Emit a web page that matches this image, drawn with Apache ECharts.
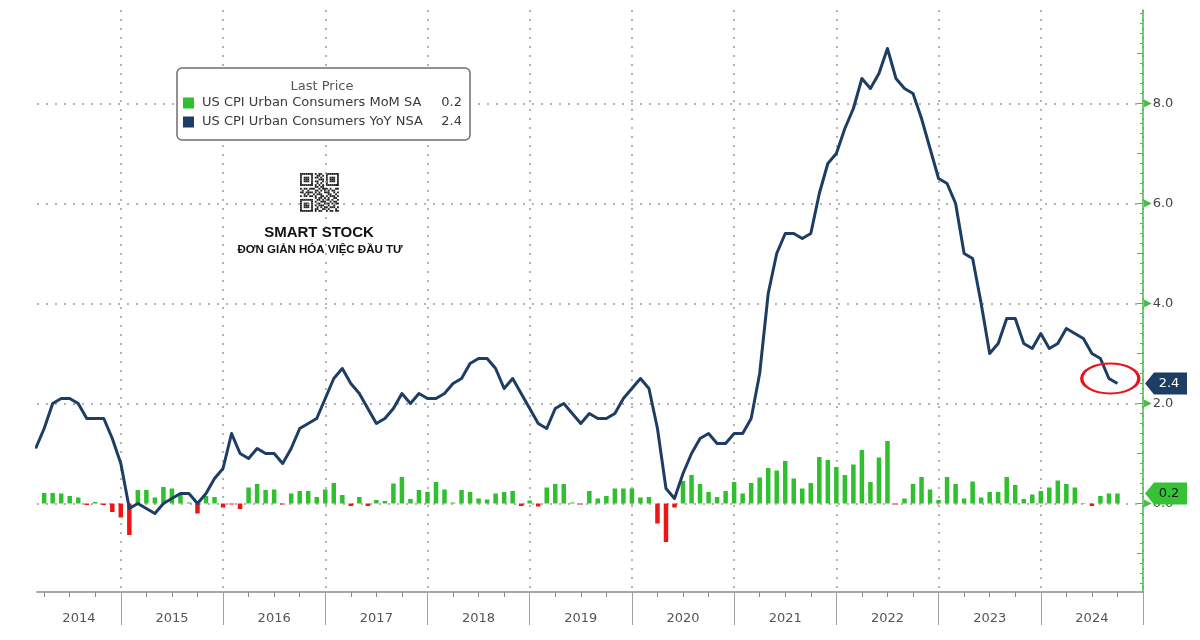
<!DOCTYPE html>
<html><head><meta charset="utf-8">
<script src="https://cdn.jsdelivr.net/npm/echarts@6/dist/echarts.min.js"></script>
<style>html,body{margin:0;padding:0;background:#fff}#c{width:1200px;height:640px}</style>
</head><body><div id="c"></div>
<script>
// ---------------- DATA ----------------
// monthly observations, first one = Feb 2014, each plotted at its month end
const startYear = 2014;
const startMonth = 2;
const yearLabels = ['2014','2015','2016','2017','2018','2019','2020','2021','2022','2023','2024'];
const seriesNames = ['US CPI Urban Consumers MoM SA', 'US CPI Urban Consumers YoY NSA'];

// US CPI YoY NSA (%)
const yoyNSA = [
  1.1, 1.5, 2.0, 2.1, 2.1, 2.0, 1.7, 1.7, 1.7, 1.3, 0.8,          // 2014 Feb-Dec
  -0.1, 0.0, -0.1, -0.2, 0.0, 0.1, 0.2, 0.2, 0.0, 0.2, 0.5, 0.7,  // 2015
  1.4, 1.0, 0.9, 1.1, 1.0, 1.0, 0.8, 1.1, 1.5, 1.6, 1.7, 2.1,     // 2016
  2.5, 2.7, 2.4, 2.2, 1.9, 1.6, 1.7, 1.9, 2.2, 2.0, 2.2, 2.1,     // 2017
  2.1, 2.2, 2.4, 2.5, 2.8, 2.9, 2.9, 2.7, 2.3, 2.5, 2.2, 1.9,     // 2018
  1.6, 1.5, 1.9, 2.0, 1.8, 1.6, 1.8, 1.7, 1.7, 1.8, 2.1, 2.3,     // 2019
  2.5, 2.3, 1.5, 0.3, 0.1, 0.6, 1.0, 1.3, 1.4, 1.2, 1.2, 1.4,     // 2020
  1.4, 1.7, 2.6, 4.2, 5.0, 5.4, 5.4, 5.3, 5.4, 6.2, 6.8, 7.0,     // 2021
  7.5, 7.9, 8.5, 8.3, 8.6, 9.1, 8.5, 8.3, 8.2, 7.7, 7.1, 6.5,     // 2022
  6.4, 6.0, 5.0, 4.9, 4.0, 3.0, 3.2, 3.7, 3.7, 3.2, 3.1, 3.4,     // 2023
  3.1, 3.2, 3.5, 3.4, 3.3, 3.0, 2.9, 2.5, 2.4                     // 2024 Jan-Sep
];

// US CPI MoM SA (%)  (Feb 2014 bar lies left of the visible window)
const momSA = [
  null, 0.21, 0.21, 0.2, 0.15, 0.12, -0.03, 0.03, -0.03, -0.17, -0.28,       // 2014
  -0.63, 0.27, 0.27, 0.12, 0.33, 0.3, 0.2, 0.02, -0.2, 0.15, 0.13, -0.08,    // 2015
  -0.02, -0.11, 0.32, 0.39, 0.27, 0.28, -0.02, 0.2, 0.25, 0.25, 0.13, 0.28,  // 2016
  0.41, 0.17, -0.05, 0.13, -0.05, 0.07, 0.05, 0.4, 0.53, 0.09, 0.27, 0.23,   // 2017
  0.43, 0.28, 0.02, 0.27, 0.23, 0.1, 0.08, 0.2, 0.23, 0.25, -0.05, 0.06,     // 2018
  -0.06, 0.32, 0.39, 0.39, 0.02, -0.02, 0.25, 0.1, 0.15, 0.3, 0.3, 0.3,      // 2019
  0.12, 0.13, -0.4, -0.77, -0.08, 0.45, 0.57, 0.39, 0.23, 0.13, 0.25, 0.43,  // 2020
  0.2, 0.41, 0.52, 0.71, 0.66, 0.85, 0.5, 0.3, 0.41, 0.93, 0.87, 0.73,       // 2021
  0.57, 0.78, 1.07, 0.43, 0.92, 1.25, -0.02, 0.1, 0.39, 0.53, 0.28, 0.07,    // 2022
  0.53, 0.39, 0.1, 0.44, 0.12, 0.23, 0.23, 0.53, 0.37, 0.09, 0.18, 0.25,     // 2023
  0.32, 0.46, 0.39, 0.32, 0.01, -0.05, 0.15, 0.2, 0.2                        // 2024
];

const yTickLabels = [0, 2, 4, 6, 8];

// ---------------- STYLE / LAYOUT ----------------
const FONT = 'DejaVu Sans';
const NAVY = '#1d3d64';
const GREEN = '#2fbf2f';
const RED = '#f01414';
const AXIS_GREEN = '#48bb48';
const X_MIN = 2014.18, X_MAX = 2025;
const Y_MIN = -1.77, Y_MAX = 9.87;

const xOf = i => startYear + (startMonth + i) / 12;
const lineData = yoyNSA.map((v, i) => [xOf(i), v]);
const barData = momSA.map((v, i) => [xOf(i), v]);
const lastYoY = yoyNSA[yoyNSA.length - 1];
const lastMoM = momSA[momSA.length - 1];
const lastX = xOf(yoyNSA.length - 1);

const quarterTicks = [];
const yearTicks = [];
const labelPos = [];
yearLabels.forEach((y, k) => {
  const yr = +y;
  [0.25, 0.5, 0.75].forEach(q => quarterTicks.push(yr + q));
  yearTicks.push(yr + 1);
  labelPos.push(k === 0 ? (X_MIN + yr + 1) / 2 : yr + 0.5);
});
const minorTicks = [];
for (let k = -8; k <= 49; k++) minorTicks.push(Math.round(k * 2) / 10);
const intTicks = [];
for (let k = -1; k <= 9; k++) intTicks.push(k);

const tagLeft = 'path://M0,11 L9,0 L42,0 L42,22 L9,22 Z';

// QR-like watermark pattern (decoration)
const qr = [
  '111111101011001111111',
  '100000100110101000001',
  '101110101101001011101',
  '101110100011101011101',
  '101110101100101011101',
  '100000100101001000001',
  '111111101010101111111',
  '000000001101100000000',
  '101101110010111010011',
  '010010001101010101100',
  '110111101010011100101',
  '001010010111000110010',
  '101101101001101011101',
  '000000001011010100110',
  '111111100110101101001',
  '100000101001110010110',
  '101110100110011101011',
  '101110101011100100100',
  '101110100101011011101',
  '100000101100110100010',
  '111111101011001011011'
];
const m = 1.85;
const qrRects = [{type: 'rect', shape: {x: -1, y: -1, width: 21 * m + 2, height: 21 * m + 2}, style: {fill: '#fff'}}];
qr.forEach((row, r) => row.split('').forEach((c, col) => {
  if (c === '1') qrRects.push({type: 'rect', shape: {x: col * m, y: r * m, width: m, height: m}, style: {fill: '#222'}});
}));

const chart = echarts.init(document.getElementById('c'), null, {renderer: 'canvas'});
const dotted = {color: '#9a9a9a', width: 1.5, type: [2, 7]};

chart.setOption({
  animation: false,
  backgroundColor: '#fff',
  textStyle: {fontFamily: FONT},
  grid: {left: 37, right: 57, top: 10, bottom: 48, containLabel: false, outerBoundsMode: 'none'},
  legend: {
    orient: 'vertical', left: 177, top: 68,
    padding: [28, 8, 11, 6],
    itemWidth: 11, itemHeight: 11, itemGap: 5, icon: 'rect',
    backgroundColor: '#fff', borderColor: '#6f6f6f', borderWidth: 1.5, borderRadius: 5,
    selectedMode: false,
    data: [
      {name: seriesNames[0], itemStyle: {color: GREEN}},
      {name: seriesNames[1], itemStyle: {color: NAVY}}
    ],
    formatter: name => {
      const v = name === seriesNames[0] ? lastMoM : lastYoY;
      return '{n|' + name + '}{v|' + v.toFixed(1) + '}';
    },
    textStyle: {
      color: '#3a3a3a', fontSize: 13, fontFamily: FONT, lineHeight: 14,
      rich: {
        n: {width: 232, fontSize: 13, fontFamily: FONT, color: '#3a3a3a', padding: [0, 0, 0, 3]},
        v: {width: 28, align: 'right', fontSize: 13, fontFamily: FONT, color: '#3a3a3a'}
      }
    }
  },
  xAxis: [
    {
      type: 'value', min: X_MIN, max: X_MAX, position: 'bottom',
      axisLine: {show: true, onZero: false, lineStyle: {color: '#8a8a8a', width: 1.5}},
      axisTick: {show: true, customValues: quarterTicks, length: 5, lineStyle: {color: '#8a8a8a'}},
      axisLabel: {
        customValues: labelPos, margin: 20, color: '#555', fontSize: 13, fontFamily: FONT,
        formatter: v => yearLabels[Math.floor(v) - startYear]
      },
      splitLine: {show: false}
    },
    {
      type: 'value', min: X_MIN, max: X_MAX, position: 'bottom',
      axisLine: {show: false, onZero: false},
      axisTick: {show: true, customValues: yearTicks, length: 33, lineStyle: {color: '#a0a0a0', width: 1}},
      axisLabel: {show: false},
      splitLine: {show: true, lineStyle: dotted}
    }
  ],
  yAxis: [
    {
      type: 'value', min: Y_MIN, max: Y_MAX, position: 'right',
      axisLine: {show: false, onZero: false},
      axisTick: {show: false, customValues: yTickLabels},
      axisLabel: {
        customValues: yTickLabels, margin: 1,
        formatter: v => '{t|\u25B6}{v|' + v.toFixed(1) + '}',
        rich: {
          t: {color: AXIS_GREEN, fontSize: 10, fontFamily: FONT},
          v: {color: '#444', fontSize: 13, fontFamily: FONT, padding: [0, 0, 0, 1]}
        }
      },
      splitLine: {show: true, lineStyle: dotted}
    },
    {
      type: 'value', min: Y_MIN, max: Y_MAX, position: 'right',
      axisLine: {show: true, onZero: false, lineStyle: {color: AXIS_GREEN, width: 1.5}},
      axisTick: {show: true, inside: true, length: 3, customValues: minorTicks, lineStyle: {color: AXIS_GREEN}},
      axisLabel: {show: false}, splitLine: {show: false}
    },
    {
      type: 'value', min: Y_MIN, max: Y_MAX, position: 'right',
      axisLine: {show: false, onZero: false},
      axisTick: {show: true, inside: true, length: 6, customValues: intTicks, lineStyle: {color: AXIS_GREEN}},
      axisLabel: {show: false}, splitLine: {show: false}
    }
  ],
  series: [
    {
      name: seriesNames[0], type: 'bar', xAxisIndex: 0, yAxisIndex: 0,
      data: barData, barWidth: 4.5, color: GREEN,
      itemStyle: {color: p => (p.value[1] < 0 ? RED : GREEN)},
      markPoint: {
        symbol: tagLeft, symbolSize: [42, 22], symbolOffset: [23, 0], symbolKeepAspect: false,
        itemStyle: {color: '#35c235'},
        label: {show: true, position: 'inside', offset: [3, 0], color: '#1a1a1a', fontSize: 13, fontFamily: FONT,
                formatter: () => lastMoM.toFixed(1)},
        data: [{coord: [X_MAX, lastMoM]}]
      }
    },
    {
      name: seriesNames[1], type: 'line', xAxisIndex: 0, yAxisIndex: 0,
      data: lineData, symbol: 'none', color: NAVY,
      lineStyle: {color: NAVY, width: 3, join: 'round'},
      markPoint: {
        data: [
          {
            coord: [X_MAX, lastYoY], symbol: tagLeft, symbolSize: [42, 22], symbolOffset: [23, 0], symbolKeepAspect: false,
            itemStyle: {color: NAVY},
            label: {show: true, position: 'inside', offset: [3, 0], color: '#fff', fontSize: 13, fontFamily: FONT,
                    formatter: () => lastYoY.toFixed(1)}
          },
          {
            coord: [lastX - 0.07, lastYoY + 0.1], symbol: 'circle', symbolSize: [57, 30],
            itemStyle: {color: 'rgba(0,0,0,0)', borderColor: '#e8141b', borderWidth: 2.5},
            label: {show: false}
          }
        ]
      }
    }
  ],
  graphic: [
    {type: 'text', x: 322, y: 87, z: 10,
     style: {text: 'Last Price', fill: '#555', fontSize: 13, fontFamily: FONT, align: 'center', verticalAlign: 'middle'}},
    {type: 'group', x: 300, y: 173, z: 10, children: qrRects},
    {type: 'text', x: 319, y: 233, z: 10,
     style: {text: 'SMART STOCK', fill: '#111', fontSize: 15, fontWeight: 'bold', fontFamily: 'Liberation Sans', align: 'center', verticalAlign: 'middle'}},
    {type: 'text', x: 320, y: 250, z: 10,
     style: {text: 'ĐƠN GIẢN HÓA VIỆC ĐẦU TƯ', fill: '#111', fontSize: 11.5, fontWeight: 'bold', fontFamily: 'Liberation Sans', align: 'center', verticalAlign: 'middle'}}
  ]
});
</script>
</body></html>
